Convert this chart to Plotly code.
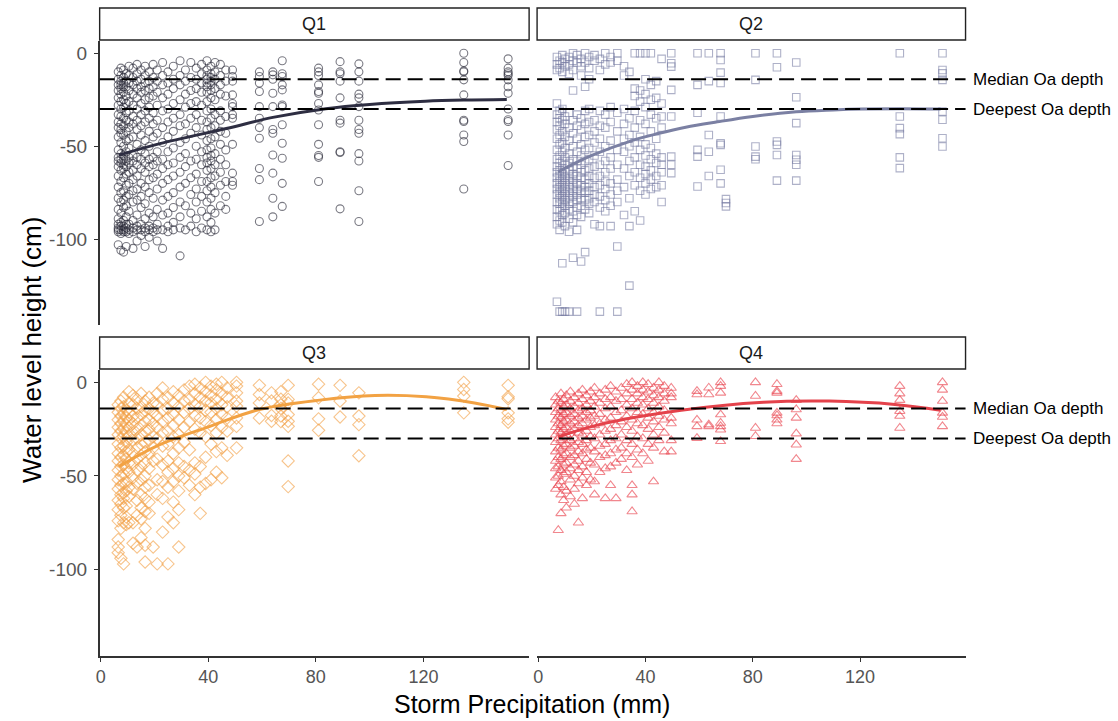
import plotly.graph_objects as go

# ---------------- data ----------------
quarters = ["Q1", "Q2", "Q3", "Q4"]
median_oa_depth = -14
deepest_oa_depth = -30
x_tick_vals = [0, 40, 80, 120]
x_tick_text = ["0", "40", "80", "120"]
y_tick_vals = [0, -50, -100]
y_tick_text = ["0", "-50", "-100"]

# storm precipitation (mm) per storm event, and water levels (cm) of the wells for that storm
q1_x = [6.5, 7.5, 8.5, 9.5, 10.5, 12, 13.5, 15, 16.5, 18, 19.5, 21, 23, 25, 27, 29.5, 31.5, 33.5,
        35.5, 37.5, 39.5, 41, 42.5, 44.5, 46.5, 49, 59, 64, 67.5, 81, 89, 96, 135, 151.5]
q1_y = [
    [-10, -14, -17, -20, -24, -28, -33, -37, -40, -45, -52, -56, -58, -61, -66, -72, -78, -84, -89, -92, -94, -95, -96, -103],
    [-8, -12, -15, -17, -19, -22, -26, -30, -34, -38, -41, -43, -48, -54, -57, -59, -63, -69, -75, -80, -86, -91, -93, -95, -97, -106],
    [-9, -13, -16, -18, -21, -25, -29, -35, -39, -44, -50, -55, -57, -60, -62, -67, -74, -79, -83, -90, -93, -95, -96, -107],
    [-11, -15, -18, -23, -27, -32, -36, -42, -47, -53, -58, -61, -65, -71, -77, -82, -88, -92, -94, -96, -104],
    [-7, -12, -16, -20, -26, -31, -37, -40, -46, -51, -56, -59, -64, -70, -76, -85, -92, -95, -97],
    [-8, -13, -17, -22, -28, -34, -38, -45, -55, -58, -63, -68, -74, -80, -90, -94, -96, -105],
    [-6, -11, -15, -19, -24, -30, -36, -41, -49, -56, -60, -66, -73, -79, -87, -93, -95, -101],
    [-9, -14, -18, -21, -27, -33, -39, -44, -52, -57, -62, -70, -77, -83, -92, -95, -98],
    [-7, -12, -16, -20, -25, -31, -37, -47, -54, -59, -64, -72, -81, -89, -94, -96, -104],
    [-10, -15, -19, -24, -29, -35, -42, -50, -57, -61, -68, -75, -86, -93, -95, -99],
    [-6, -13, -18, -23, -32, -38, -45, -56, -60, -67, -78, -88, -94, -96],
    [-9, -15, -21, -28, -36, -43, -53, -58, -65, -73, -84, -92, -95, -101],
    [-5, -12, -17, -24, -31, -40, -48, -57, -62, -70, -79, -87, -95, -105],
    [-10, -16, -22, -30, -37, -45, -53, -60, -68, -77, -86, -93, -96],
    [-7, -14, -19, -27, -35, -42, -51, -59, -66, -75, -83, -91, -95],
    [-4, -12, -17, -25, -33, -39, -48, -56, -64, -72, -80, -88, -94, -109],
    [-9, -15, -22, -29, -38, -46, -54, -61, -70, -82, -95],
    [-5, -13, -20, -27, -35, -43, -58, -67, -76, -86, -93],
    [-8, -14, -19, -26, -33, -40, -50, -57, -65, -73, -80, -89, -96],
    [-6, -11, -16, -21, -28, -36, -44, -53, -60, -69, -77, -85, -94],
    [-4, -9, -12, -14, -16, -18, -21, -26, -31, -37, -41, -47, -52, -56, -59, -63, -69, -74, -80, -88, -95],
    [-7, -11, -13, -15, -17, -20, -24, -30, -35, -40, -46, -51, -55, -58, -62, -67, -72, -78, -84, -91, -96],
    [-5, -10, -14, -19, -25, -33, -39, -45, -54, -60, -66, -75, -86, -95],
    [-6, -12, -17, -22, -31, -36, -42, -49, -57, -64, -71, -82],
    [-9, -15, -23, -34, -43, -52, -60, -69, -77, -84],
    [-9, -12.5, -15, -22.4, -27, -28.7, -33, -35, -49, -64.5, -69, -71],
    [-10, -12.5, -16, -20.6, -28.7, -35, -40, -45.7, -62, -68, -90.5],
    [-10, -11.6, -14, -21.5, -28.7, -41, -43, -54.7, -64.5, -78, -88],
    [-4, -11, -12.5, -17, -19.7, -27.8, -28.7, -38.5, -48.4, -56.5, -70, -82.4],
    [-8, -10, -12, -17, -20.6, -21.5, -27, -30.5, -38.5, -49, -55, -56, -69],
    [-4.5, -10, -11, -15, -24, -36, -37.6, -53, -53.4, -83.7],
    [-5.7, -10, -15, -22, -24, -28.7, -36, -41, -43, -54, -58, -74, -90.5],
    [0, -5, -9.5, -10, -14.3, -22.4, -36, -36.7, -44, -47.5, -73],
    [-3, -8, -10, -11, -12, -14.3, -18, -21.5, -30, -35.8, -36.7, -44, -60.4],
]

q2_x = [7, 8, 9, 10, 11.5, 13, 14.5, 16, 17.5, 19, 21, 23, 25, 27, 29.5, 32, 34, 36, 38, 40, 42,
        44, 46, 49.6, 59.4, 63.6, 68, 70, 81, 89, 96.2, 134.8, 150.7]
q2_y = [
    [-2, -6, -9, -27, -33, -37, -41, -46, -52, -57, -61, -64, -67, -70, -73, -76, -80, -84, -88, -92, -133.7],
    [-4, -8, -31, -35, -39, -44, -49, -55, -59, -63, -66, -69, -72, -75, -78, -81, -85, -90, -95, -139],
    [-1, -5, -10, -30, -36, -42, -48, -53, -58, -62, -65, -68, -71, -74, -77, -80, -83, -87, -91, -113, -139],
    [-3, -7, -34, -38, -45, -51, -56, -60, -64, -67, -70, -73, -76, -79, -82, -86, -93, -139],
    [-2, -6, -11, -32, -40, -47, -54, -59, -63, -66, -69, -72, -75, -78, -81, -84, -89, -96, -139],
    [0, -4, -9, -20, -36, -43, -50, -57, -61, -65, -68, -71, -74, -77, -80, -85, -91, -110],
    [-1, -5, -33, -39, -46, -53, -58, -62, -66, -70, -73, -76, -79, -83, -87, -95, -139],
    [-3, -7, -12, -35, -41, -49, -55, -60, -64, -67, -71, -74, -78, -82, -88, -112],
    [0, -5, -18, -31, -38, -45, -52, -58, -63, -68, -72, -75, -79, -84, -107],
    [-2, -8, -14, -30, -37, -44, -51, -57, -62, -66, -70, -74, -78, -81, -86],
    [-1, -4, -36, -42, -48, -55, -61, -67, -72, -76, -80, -92],
    [-3, -9, -31, -39, -46, -53, -60, -66, -71, -77, -83, -93, -139],
    [0, -6, -33, -40, -50, -58, -64, -69, -73, -79, -85],
    [-2, -5, -29, -37, -47, -56, -62, -70, -76, -82, -93],
    [0, -4, -32, -42, -52, -60, -68, -74, -80, -104, -139],
    [-7, -12, -30, -38, -46, -53, -62, -72, -87],
    [-10, -35, -44, -50, -58, -66, -78, -93, -125],
    [0, -19, -23, -31, -40, -48, -56, -64, -71, -85],
    [0, -20, -26, -36, -45, -52, -60, -67, -74, -90],
    [0, -14, -22, -29, -38, -49, -55, -61, -65, -70, -76],
    [0, -17, -25, -33, -42, -51, -57, -63, -68, -73],
    [-15, -24, -35, -46, -54, -59, -66, -72],
    [-3, -27, -34, -40, -56, -60, -64, -71, -80],
    [0, -5.4, -7.2, -19.7, -34, -55.6, -60, -64.5],
    [0, -17, -32, -52, -55.6, -71.7],
    [0, -15, -44, -53, -66],
    [0, -3.6, -10.4, -16, -34, -48.4, -49.3, -62.7, -70],
    [-78.5, -80.6, -82.4],
    [0, -14.3, -50.2, -55.6, -57],
    [0, -7.5, -47.5, -49.3, -54.7, -68.5],
    [-5, -23.7, -37.6, -54.7, -57.3, -60, -68.5],
    [0, -34, -40.3, -43.5, -56, -61.8],
    [0, -9, -10.8, -14.3, -31.4, -35.8, -45.7, -50.2],
]

q3_x = [6.5, 7.5, 8.5, 9.5, 10.5, 12, 13.5, 15, 16.5, 18, 19.5, 21, 23, 25, 27, 29, 31, 33, 35, 37,
        39, 41, 43, 45, 47, 50.5, 59, 63.5, 67, 69.7, 81, 89, 96, 135, 151.5]
q3_y = [
    [-12, -16, -20, -24, -28, -33, -38, -42, -47, -52, -57, -63, -68, -74, -84, -88, -91],
    [-10, -14, -18, -22, -26, -30, -35, -40, -45, -50, -55, -60, -65, -71, -78, -94],
    [-8, -13, -17, -21, -25, -29, -34, -39, -44, -49, -54, -59, -62, -67, -75, -97],
    [-15, -19, -23, -27, -32, -37, -41, -46, -53, -58, -66, -72, -76],
    [-5, -11, -16, -20, -24, -29, -36, -43, -48, -56, -61, -75],
    [-7, -12, -18, -22, -27, -31, -38, -44, -51, -57, -75, -86],
    [-9, -14, -19, -25, -30, -35, -41, -47, -54, -63, -71, -88],
    [-6, -13, -17, -23, -28, -33, -39, -45, -52, -60, -67, -73, -83],
    [-10, -15, -21, -26, -32, -37, -43, -50, -56, -62, -69, -78, -87, -96],
    [-8, -14, -20, -25, -31, -38, -46, -55, -64, -70],
    [-11, -16, -22, -29, -35, -42, -88],
    [-6, -12, -18, -24, -30, -41, -52, -60, -97],
    [-3, -9, -15, -21, -27, -34, -44, -53, -62, -80],
    [-8, -14, -19, -26, -33, -42, -48, -56, -72, -97],
    [-5, -11, -17, -23, -29, -38, -46, -53, -64, -75],
    [-7, -13, -20, -28, -35, -43, -50, -58, -68, -88],
    [-4, -10, -16, -24, -32, -45, -51],
    [-2, -9, -14, -21, -36, -47, -55],
    [-1, -6, -12, -18, -25, -43, -49, -60],
    [-3, -8, -13, -19, -27, -45, -56, -70],
    [0, -5, -10, -15, -21, -29, -40, -54],
    [-2, -7, -11, -16, -23, -33, -52],
    [-1, -4, -9, -14, -20, -27, -37, -48],
    [0, -6, -12, -17, -24, -35, -51],
    [-3, -8, -13, -19, -26, -39],
    [0, -2, -5.6, -10, -12.7, -19, -23.5, -35],
    [-1.6, -6.5, -11, -19],
    [-5.6, -10, -17.7, -20.8],
    [-5, -9, -12, -14, -18, -21],
    [-1.6, -9.1, -11, -17.2, -20.8, -23.5, -42, -55.7],
    [-1, -8.2, -19.5, -25.6],
    [-1.6, -10, -18.5],
    [-5.6, -18, -22.6, -39.2],
    [0, -3.8, -7.3, -16.3],
    [-1.6, -7.7, -8.8, -16.3, -19.5, -21.3],
]

q4_x = [6.5, 7.5, 8.5, 9.5, 10.5, 12, 13.5, 15, 16.5, 18, 19.5, 21, 23, 25, 27, 29, 31, 33, 35, 37,
        39, 41, 43, 45, 47, 49.6, 59.2, 63.6, 68, 81, 89, 96.2, 134.8, 150.7]
q4_y = [
    [-8, -12, -16, -20, -24, -28, -32, -37, -42, -46, -51, -57],
    [-10, -14, -18, -22, -26, -30, -35, -40, -45, -50, -55, -79],
    [-6, -11, -15, -19, -23, -27, -31, -36, -41, -47, -53, -60, -70],
    [-9, -13, -17, -21, -25, -29, -34, -39, -44, -49, -56, -63],
    [-7, -12, -16, -20, -24, -28, -33, -38, -43, -48, -58, -67],
    [-5, -10, -14, -18, -22, -26, -31, -35, -40, -46, -52, -61],
    [-8, -13, -17, -21, -25, -30, -34, -39, -44, -50, -57, -65],
    [-6, -11, -15, -19, -23, -27, -32, -37, -42, -47, -54, -75],
    [-4, -9, -14, -18, -22, -28, -33, -38, -45, -51, -62],
    [-7, -12, -16, -20, -26, -31, -36, -41, -48, -55],
    [-5, -10, -15, -19, -24, -29, -35, -43, -52],
    [-3, -8, -13, -18, -23, -30, -37, -44, -53, -60],
    [-6, -11, -17, -22, -28, -34, -40, -48],
    [-4, -9, -14, -20, -26, -33, -39, -46, -62],
    [-2, -8, -13, -19, -25, -31, -38, -45, -55],
    [-5, -10, -16, -23, -30, -36, -43, -62],
    [-3, -9, -15, -21, -28, -35, -41],
    [-1, -6, -12, -18, -24, -31, -38, -47],
    [0, -4, -9, -14, -20, -26, -33, -40, -55, -60, -69],
    [-2, -6, -11, -16, -22, -29, -36, -44],
    [0, -4, -8, -12, -17, -23, -30, -38],
    [-1, -5, -9, -14, -19, -25, -33, -42],
    [-3, -7, -11, -16, -21, -28, -35, -53],
    [0, -4, -8, -13, -18, -24, -31],
    [-2, -6, -10, -15, -20, -27, -37],
    [-3, -6, -8, -19, -22, -31, -37],
    [-4.7, -6.5, -20, -23.5, -29.8],
    [-2.9, -6.5, -22.6, -23.5],
    [0, -2, -5.6, -17.2, -21.7, -23.5, -25.3, -31.5],
    [0, -7.3, -24.4, -28.8],
    [-1, -4.7, -5.6, -16.3, -17.7, -20, -22],
    [-9.5, -14.5, -19, -27.4, -33.3, -41],
    [-2, -6, -9.5, -15.4, -18, -24.4],
    [0, -4, -10, -16.3, -18.5, -23.5],
]

# fitted smooth curves
q1_curve_x = [6.7, 22, 46.7, 64, 83.7, 100, 120.7, 135, 151]
q1_curve_y = [-54.8, -48.6, -40.5, -34.5, -29.8, -27.5, -25.8, -25.2, -24.9]
q2_curve_x = [7.4, 20, 35, 44.7, 55, 66.8, 80, 96.2, 110, 120.6, 135, 150]
q2_curve_y = [-63.8, -55, -47, -43.2, -39.8, -36.9, -34, -31.5, -30.5, -30, -29.8, -30]
q3_curve_x = [6.7, 22, 40.6, 59, 81.4, 102, 121, 139, 151]
q3_curve_y = [-45, -33.3, -23.5, -14.5, -9.5, -7, -7.7, -11, -14.5]
q4_curve_x = [7.4, 22.7, 53.3, 84, 108.5, 133, 150]
q4_curve_y = [-29.2, -22.6, -14.9, -10.6, -10, -11.8, -14.9]

# ---------------- styling ----------------
FONT = "Liberation Sans, Arial, sans-serif"
W, H = 1118, 721
point_colors = ["rgba(40,40,55,0.62)", "rgba(115,120,160,0.58)", "rgba(242,160,70,0.62)", "rgba(232,62,72,0.62)"]
line_colors = ["#2e2e42", "#7b80a3", "#f2a243", "#e4424b"]
symbols = ["circle-open", "square-open", "diamond-open", "triangle-up-open"]
sizes = [8, 7.5, 9.5, 9]

col_px = [(96, 527), (535, 965)]
row_px = [(41, 325), (370, 656)]
x_range = [-0.4, 159.3]
y_range = [-146.2, 6.6]

xs_all = [q1_x, q2_x, q3_x, q4_x]
ys_all = [q1_y, q2_y, q3_y, q4_y]
curves = [(q1_curve_x, q1_curve_y), (q2_curve_x, q2_curve_y),
          (q3_curve_x, q3_curve_y), (q4_curve_x, q4_curve_y)]

fig = go.Figure()
shapes = []
annotations = []
layout = {}

for i, q in enumerate(quarters):
    r, c = divmod(i, 2)
    ax = "" if i == 0 else str(i + 1)
    px_list, py_list = [], []
    for xv, yl in zip(xs_all[i], ys_all[i]):
        for yv in yl:
            px_list.append(xv)
            py_list.append(yv)
    fig.add_trace(go.Scatter(
        x=px_list, y=py_list, mode="markers", xaxis="x" + ax, yaxis="y" + ax,
        marker=dict(symbol=symbols[i], size=sizes[i], color=point_colors[i], line=dict(width=1.1)),
        showlegend=False, hoverinfo="skip"))
    cx, cy = curves[i]
    fig.add_trace(go.Scatter(
        x=cx, y=cy, mode="lines", xaxis="x" + ax, yaxis="y" + ax,
        line=dict(color=line_colors[i], width=3, shape="spline", smoothing=1.0),
        showlegend=False, hoverinfo="skip"))

    x0p, x1p = col_px[c]
    y0p, y1p = row_px[r]
    show_x = (r == 1)
    show_y = (c == 0)
    layout["xaxis" + ax] = dict(
        domain=[x0p / W, x1p / W], anchor="y" + ax, range=x_range,
        showgrid=False, zeroline=False,
        showline=show_x, linecolor="#333333", linewidth=1.5,
        ticks="outside" if show_x else "", ticklen=4, tickwidth=1.3, tickcolor="#333333",
        showticklabels=show_x, tickvals=x_tick_vals, ticktext=x_tick_text,
        tickfont=dict(family=FONT, size=18, color="#555555"))
    layout["yaxis" + ax] = dict(
        domain=[1 - y1p / H, 1 - y0p / H], anchor="x" + ax, range=y_range,
        showgrid=False, zeroline=False,
        showline=show_y, linecolor="#333333", linewidth=1.5,
        ticks="outside" if show_y else "", ticklen=4, tickwidth=1.3, tickcolor="#333333",
        showticklabels=show_y, tickvals=y_tick_vals, ticktext=y_tick_text,
        tickfont=dict(family=FONT, size=19, color="#555555"), ticklabelstandoff=3)

    # dashed reference lines
    for dv in (median_oa_depth, deepest_oa_depth):
        shapes.append(dict(type="line", xref="x" + ax + " domain", yref="y" + ax,
                           x0=0, x1=1, y0=dv, y1=dv, layer="above",
                           line=dict(color="black", width=2, dash="15px,7px")))
    # strip
    sy0 = y0p - 33
    sy1 = y0p - 1
    shapes.append(dict(type="rect", xref="paper", yref="paper",
                       x0=x0p / W, x1=x1p / W, y0=1 - sy1 / H, y1=1 - sy0 / H,
                       line=dict(color="#222222", width=1.4), fillcolor="white", layer="below"))
    annotations.append(dict(text=q, xref="paper", yref="paper", x=(x0p + x1p) / 2 / W,
                            y=1 - (sy0 + sy1) / 2 / H, showarrow=False,
                            font=dict(family=FONT, size=18, color="#1a1a1a"),
                            xanchor="center", yanchor="middle"))
    if c == 1:
        annotations.append(dict(text="Median Oa depth", xref="paper", yref="y" + ax,
                                x=970 / W, y=median_oa_depth, showarrow=False, xanchor="left",
                                yanchor="middle", font=dict(family=FONT, size=17, color="black")))
        annotations.append(dict(text="Deepest Oa depth", xref="paper", yref="y" + ax,
                                x=970 / W, y=deepest_oa_depth, showarrow=False, xanchor="left",
                                yanchor="middle", font=dict(family=FONT, size=17, color="black")))

annotations.append(dict(text="Storm Precipitation (mm)", xref="paper", yref="paper",
                        x=530 / W, y=1 - 704 / H, showarrow=False, xanchor="center", yanchor="middle",
                        font=dict(family=FONT, size=25, color="black")))
annotations.append(dict(text="Water level height (cm)", xref="paper", yref="paper",
                        x=28 / W, y=1 - 350 / H, showarrow=False, xanchor="center", yanchor="middle",
                        textangle=-90, font=dict(family=FONT, size=26, color="black")))

fig.update_layout(width=W, height=H, margin=dict(l=0, r=0, t=0, b=0),
                  paper_bgcolor="white", plot_bgcolor="white",
                  shapes=shapes, annotations=annotations, **layout)

fig.write_html("out.html")
